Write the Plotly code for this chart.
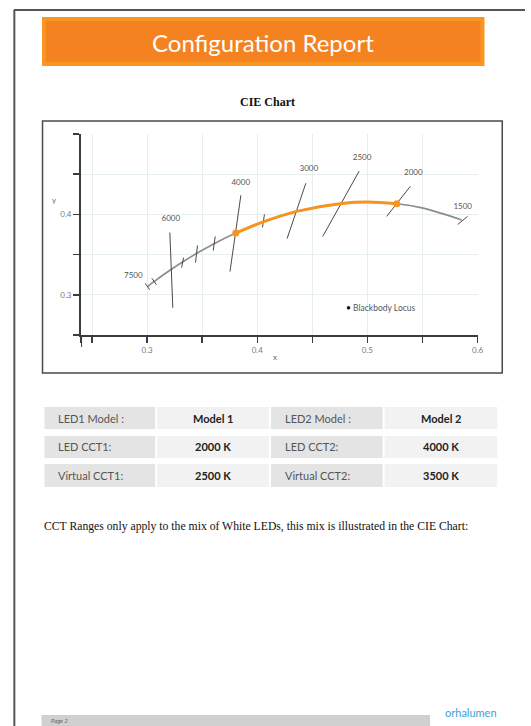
import plotly.graph_objects as go

W, H = 531, 726

# ---------------- data ----------------
cct_k = [7500, 7000, 6500, 6000, 5500, 5000, 4500, 4000, 3500, 3000, 2500, 2250, 2000, 1800, 1500]
locus_x = [0.3003, 0.3064, 0.3135, 0.3221, 0.3325, 0.3451, 0.3608, 0.3805, 0.4053,
           0.4369, 0.4770, 0.5003, 0.5267, 0.5496, 0.5857]
locus_y = [0.3103, 0.3166, 0.3237, 0.3318, 0.3411, 0.3516, 0.3636, 0.3768, 0.3907,
           0.4041, 0.4137, 0.4153, 0.4133, 0.4081, 0.3931]

led_cct1, led_cct2 = 2000, 4000
virtual_cct1, virtual_cct2 = 2500, 3500
led1_model, led2_model = "Model 1", "Model 2"

# long isotherm lines
iso_cct = [6000, 4000, 3000, 2500, 2000, 1500]
iso_x_top = [0.3206, 0.3851, 0.4441, 0.4925, 0.5390, 0.5910]
iso_y_top = [0.3775, 0.4238, 0.4388, 0.4538, 0.4350, 0.3975]
iso_x_bot = [0.3233, 0.3752, 0.4271, 0.4594, 0.5175, 0.5820]
iso_y_bot = [0.2838, 0.3288, 0.3700, 0.3725, 0.3975, 0.3875]

# short isotherm ticks
tick_cct = [7500, 7000, 5500, 5000, 4500, 3500]
tick_x_top = [0.2982, 0.3043, 0.3331, 0.3457, 0.3618, 0.4065]
tick_y_top = [0.3143, 0.3206, 0.3463, 0.3613, 0.3725, 0.4000]
tick_x_bot = [0.3023, 0.3084, 0.3313, 0.3439, 0.3600, 0.4047]
tick_y_bot = [0.3063, 0.3126, 0.3338, 0.3400, 0.3550, 0.3838]

# temperature labels
label_text = ["7500", "6000", "4000", "3000", "2500", "2000", "1500"]
label_x = [0.2875, 0.3215, 0.3850, 0.4468, 0.4952, 0.5417, 0.5865]
label_y = [0.3238, 0.3938, 0.4388, 0.4563, 0.4700, 0.4513, 0.4088]

x_tickvals = [0.24, 0.25, 0.30, 0.35, 0.40, 0.45, 0.50, 0.55, 0.60]
x_ticktext = ["", "", "0.3", "", "0.4", "", "0.5", "", "0.6"]
y_tickvals = [0.25, 0.30, 0.35, 0.40, 0.45, 0.50]
y_ticktext = ["", "0.3", "", "0.4", "", ""]

table_left_labels = ["LED1 Model :", "LED CCT1:", "Virtual CCT1:"]
table_left_values = [led1_model, f"{led_cct1} K", f"{virtual_cct1} K"]
table_right_labels = ["LED2 Model :", "LED CCT2:", "Virtual CCT2:"]
table_right_values = [led2_model, f"{led_cct2} K", f"{virtual_cct2} K"]

title_text = "Configuration Report"
chart_title = "CIE Chart"
paragraph = "CCT Ranges only apply to the mix of White LEDs, this mix is illustrated in the CIE Chart:"
page_text = "Page 2"
logo_text = "orhalumen"

SANS = "Lato, 'Open Sans', sans-serif"
SERIF = "'Liberation Serif', 'DejaVu Serif', serif"


def px(x):
    return x / W


def py(y):
    return 1 - y / H


fig = go.Figure()

# blackbody locus (grey)
fig.add_trace(go.Scatter(x=locus_x, y=locus_y, mode="lines", name="Blackbody Locus",
                         line=dict(color="#8c8c8c", width=1.6, shape="spline"),
                         showlegend=False, hoverinfo="skip"))

# isotherm lines
def seg(xa, ya, xb, yb):
    xs, ys = [], []
    for a, b, c, d in zip(xa, ya, xb, yb):
        xs += [a, c, None]
        ys += [b, d, None]
    return xs, ys

ix, iy = seg(iso_x_top, iso_y_top, iso_x_bot, iso_y_bot)
fig.add_trace(go.Scatter(x=ix, y=iy, mode="lines", line=dict(color="#4a4a4a", width=1),
                         showlegend=False, hoverinfo="skip"))
tx, ty = seg(tick_x_top, tick_y_top, tick_x_bot, tick_y_bot)
fig.add_trace(go.Scatter(x=tx, y=ty, mode="lines", line=dict(color="#4a4a4a", width=1),
                         showlegend=False, hoverinfo="skip"))

# LED mixing range (orange)
lo, hi = min(led_cct1, led_cct2), max(led_cct1, led_cct2)
sel = [i for i, c in enumerate(cct_k) if lo <= c <= hi]
fig.add_trace(go.Scatter(x=[locus_x[i] for i in sel], y=[locus_y[i] for i in sel],
                         mode="lines", line=dict(color="#f7931e", width=3, shape="spline"),
                         showlegend=False, hoverinfo="skip"))
ends = [cct_k.index(led_cct1), cct_k.index(led_cct2)]
fig.add_trace(go.Scatter(x=[locus_x[i] for i in ends], y=[locus_y[i] for i in ends],
                         mode="markers", marker=dict(color="#f7931e", size=7),
                         showlegend=False, hoverinfo="skip"))

# labels
fig.add_trace(go.Scatter(x=label_x, y=label_y, mode="text", text=label_text,
                         textfont=dict(family=SANS, size=8, color="#555555"),
                         showlegend=False, hoverinfo="skip"))

axis_common = dict(showline=True, linecolor="#3c3c3c", linewidth=2, ticks="outside",
                   ticklen=6, tickwidth=1.5, tickcolor="#3c3c3c", showgrid=True,
                   gridcolor="#e5eef0", gridwidth=1, zeroline=False,
                   tickfont=dict(family=SANS, size=8, color="#7a7a7a"), fixedrange=True)

fig.update_layout(
    width=W, height=H, autosize=False,
    margin=dict(l=0, r=0, t=0, b=0),
    paper_bgcolor="white", plot_bgcolor="white",
    xaxis=dict(domain=[px(82), px(483)], range=[0.24, 0.60], tickmode="array",
               tickvals=x_tickvals, ticktext=x_ticktext, anchor="y", **axis_common),
    yaxis=dict(domain=[py(335), py(134)], range=[0.25, 0.50], tickmode="array",
               tickvals=y_tickvals, ticktext=y_ticktext, anchor="x", **axis_common),
    showlegend=False,
)

shapes = []
# page border
shapes.append(dict(type="line", xref="paper", yref="paper", x0=px(14.5), x1=px(14.5),
                   y0=py(10), y1=py(726), line=dict(color="#555555", width=2)))
shapes.append(dict(type="line", xref="paper", yref="paper", x0=px(14), x1=px(531),
                   y0=py(10), y1=py(10), line=dict(color="#555555", width=2)))
# banner
shapes.append(dict(type="rect", xref="paper", yref="paper", x0=px(42.5), x1=px(490),
                   y0=py(66), y1=py(17), fillcolor="#f8961f", line=dict(width=0), layer="below"))
shapes.append(dict(type="rect", xref="paper", yref="paper", x0=px(46.5), x1=px(486),
                   y0=py(62), y1=py(21), fillcolor="#f58220", line=dict(width=0), layer="below"))
# chart frame
shapes.append(dict(type="rect", xref="paper", yref="paper", x0=px(43), x1=px(508),
                   y0=py(373), y1=py(121), line=dict(color="#4a4a4a", width=1.5),
                   fillcolor="rgba(0,0,0,0)"))
# y axis extension below the corner
shapes.append(dict(type="line", xref="x", yref="paper", x0=0.24, x1=0.24,
                   y0=py(335), y1=py(347), line=dict(color="#3c3c3c", width=2)))

# table cells
col_px = [(45, 157), (159, 272), (274, 387), (389, 503)]
row_px = [(407, 429), (436, 458), (464, 487)]
col_fill = ["#e4e4e4", "#f2f2f2", "#e4e4e4", "#f2f2f2"]
for (r0, r1) in row_px:
    for (c0, c1), fc in zip(col_px, col_fill):
        shapes.append(dict(type="rect", xref="paper", yref="paper", x0=px(c0), x1=px(c1),
                           y0=py(r1), y1=py(r0), fillcolor=fc, line=dict(width=0), layer="below"))
# footer bar
shapes.append(dict(type="rect", xref="paper", yref="paper", x0=px(42), x1=px(435),
                   y0=py(726), y1=py(715), fillcolor="#d0d0d0", line=dict(width=0), layer="below"))
fig.update_layout(shapes=shapes)

ann = []
ann.append(dict(text=title_text, x=px(266), y=py(42), xref="paper", yref="paper",
                showarrow=False, font=dict(family=SANS, size=24, color="white"),
                xanchor="center", yanchor="middle"))
ann.append(dict(text=f"<b>{chart_title}</b>", x=px(271), y=py(102), xref="paper", yref="paper",
                showarrow=False, font=dict(family=SERIF, size=12, color="#111111"),
                xanchor="center", yanchor="middle"))
ann.append(dict(text="y", x=px(55), y=py(200), xref="paper", yref="paper", showarrow=False,
                font=dict(family=SANS, size=8, color="#666666"), xanchor="center", yanchor="middle"))
ann.append(dict(text="x", x=px(278), y=py(357), xref="paper", yref="paper", showarrow=False,
                font=dict(family=SANS, size=8, color="#666666"), xanchor="center", yanchor="middle"))
ann.append(dict(text="<span style='color:#000000'>\u2022</span> Blackbody Locus",
                x=px(348), y=py(308), xref="paper", yref="paper", showarrow=False,
                font=dict(family=SANS, size=8.5, color="#555555"), xanchor="left", yanchor="middle"))
for i, (r0, r1) in enumerate(row_px):
    yc = py((r0 + r1) / 2)
    for j, (lab, val) in enumerate([(table_left_labels[i], table_left_values[i]),
                                    (table_right_labels[i], table_right_values[i])]):
        c_lab = col_px[2 * j]
        c_val = col_px[2 * j + 1]
        ann.append(dict(text=lab, x=px(c_lab[0] + 12), y=yc, xref="paper", yref="paper",
                        showarrow=False, font=dict(family=SANS, size=11, color="#555555"),
                        xanchor="left", yanchor="middle"))
        ann.append(dict(text=f"<b>{val}</b>", x=px((c_val[0] + c_val[1]) / 2), y=yc,
                        xref="paper", yref="paper", showarrow=False,
                        font=dict(family=SANS, size=11, color="#222222"),
                        xanchor="center", yanchor="middle"))
ann.append(dict(text=paragraph, x=px(42), y=py(526), xref="paper", yref="paper", showarrow=False,
                font=dict(family=SERIF, size=11.7, color="#111111"), xanchor="left", yanchor="middle"))
ann.append(dict(text=f"<i>{page_text}</i>", x=px(50), y=py(720.5), xref="paper", yref="paper",
                showarrow=False, font=dict(family=SANS, size=6, color="#666666"),
                xanchor="left", yanchor="middle"))
ann.append(dict(text=logo_text, x=px(476), y=py(712), xref="paper", yref="paper",
                showarrow=False, font=dict(family=SANS, size=11, color="#3b9fd6"),
                xanchor="center", yanchor="middle"))
fig.update_layout(annotations=ann)

fig.write_html("out.html", config={"displayModeBar": False, "staticPlot": True},
               post_script="document.body.style.margin='0';document.body.style.overflow='hidden';")
